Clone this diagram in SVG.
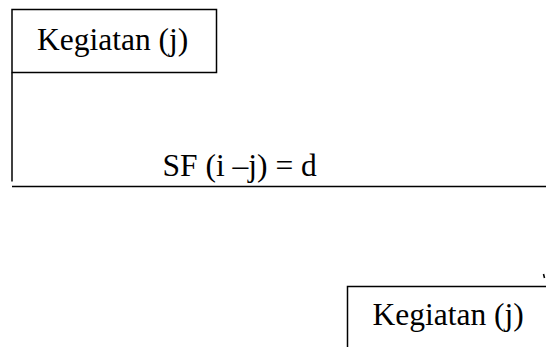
<svg xmlns="http://www.w3.org/2000/svg" width="546" height="347" viewBox="0 0 546 347">
<style>
.box{fill:#fff;stroke:#000;stroke-width:1.5}
.ln{fill:none;stroke:#000;stroke-width:1.5}
.t{font-family:"Liberation Serif","Times New Roman",serif;font-size:31.5px;fill:#000}
</style>
<rect width="546" height="347" fill="#fff"/>
<g id="connectors">
<path class="ln" d="M12,72.5 V181.5"/>
<path class="ln" d="M12,186.5 H546"/>
<path class="ln" d="M543.5,274 L544.5,278"/>
</g>
<g id="label-sf">
<text class="t" x="162.5" y="175.5">SF (i –j) = d</text>
</g>
<g id="node-kegiatan-1">
<rect class="box" x="12" y="9.5" width="204.5" height="63"/>
<text class="t" x="37" y="49.5">Kegiatan (j)</text>
</g>
<g id="node-kegiatan-2">
<path class="box" d="M546,286.5 H347.5 V348"/>
<text class="t" x="372.5" y="325">Kegiatan (j)</text>
</g>
</svg>
